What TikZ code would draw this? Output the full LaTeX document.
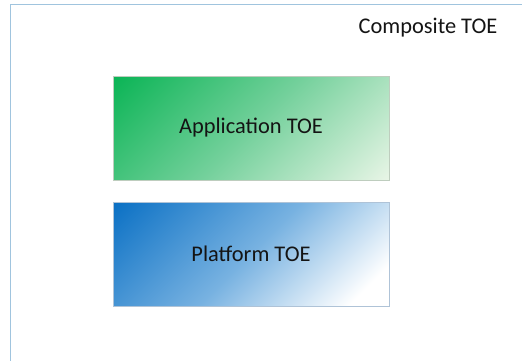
\documentclass[tikz,border=0pt]{standalone}
\usepackage{fontspec}
\setmainfont{Carlito}
\definecolor{appgreen}{RGB}{10,180,85}
\definecolor{appmid}{RGB}{115,208,155}
\definecolor{append}{RGB}{232,245,230}
\definecolor{platblue}{RGB}{10,112,196}
\definecolor{platmid}{RGB}{120,178,225}
\definecolor{outerline}{RGB}{160,196,222}
\definecolor{appline}{RGB}{190,205,190}
\definecolor{platline}{RGB}{175,195,215}
\definecolor{txt}{RGB}{20,20,20}
\pgfdeclareverticalshading{appshade}{100bp}{color(0bp)=(append); color(14.6bp)=(append); color(50bp)=(appmid); color(85.4bp)=(appgreen); color(100bp)=(appgreen)}
\pgfdeclareverticalshading{platshade}{100bp}{color(0bp)=(white); color(22bp)=(white); color(50bp)=(platmid); color(85.4bp)=(platblue); color(100bp)=(platblue)}
\tikzset{
  toebox/.style={minimum width=276pt, minimum height=104pt, inner sep=0pt,
    line width=0.8pt, font=\fontsize{22.4}{26}\selectfont, text=txt},
}
\begin{document}
\begin{tikzpicture}[x=1pt,y=-1pt]
\useasboundingbox (0,0) rectangle (522,360);
\clip (0,0) rectangle (522,360);
\fill[white] (0,0) rectangle (522,360);
\draw[outerline, line width=0.8pt] (10,4) rectangle (540,380);
\node[font=\fontsize{22.4}{26}\selectfont, text=txt, anchor=base] (comp) at (428,33) {Composite TOE};
\node[toebox, shade, shading=appshade, shading angle=45, draw=appline] (app) at (251,128) {Application TOE};
\node[toebox, shade, shading=platshade, shading angle=45, draw=platline] (plat) at (251,254) {Platform TOE};
\end{tikzpicture}
\end{document}
